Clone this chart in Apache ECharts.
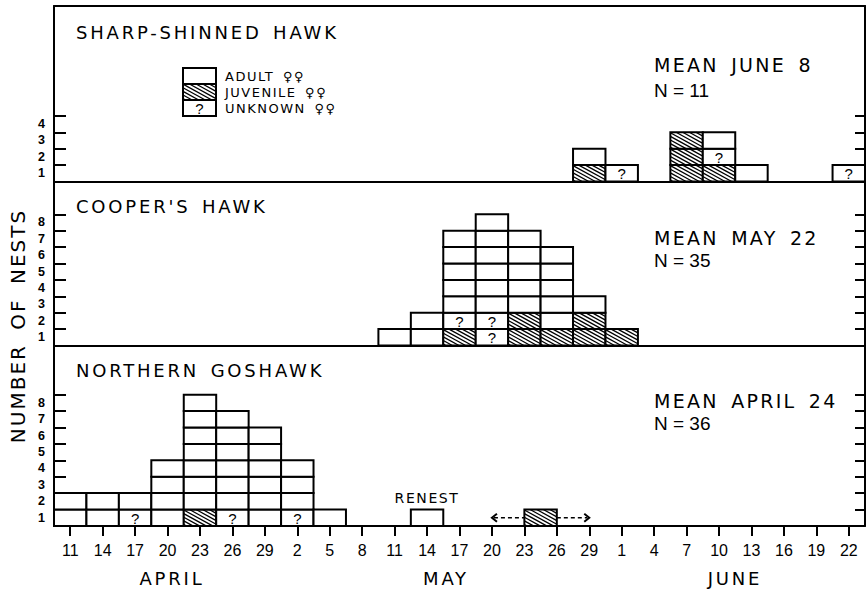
<!DOCTYPE html>
<html>
<head>
<meta charset="utf-8">
<script src="https://cdn.jsdelivr.net/npm/echarts@6/dist/echarts.min.js"></script>
<style>
  html, body { margin: 0; padding: 0; background: #fff; }
  #chart { width: 866px; height: 590px; }
  /* widely spaced hand-lettered look for the captions */
  #chart text[style*="DejaVu"][style*="18px"] { letter-spacing: 2.8px; word-spacing: 3px; }
  #chart text[style*="DejaVu"][style*="19px"] { letter-spacing: 2.3px; word-spacing: 4px; }
  #chart text[style*="DejaVu"][style*="20px"] { letter-spacing: 2px; word-spacing: 6px; }
  #chart text[style*="DejaVu"][style*="13px"] { letter-spacing: 1.5px; word-spacing: 3px; }
  #chart text[style*="DejaVu"][style*="14px"] { letter-spacing: 1.6px; }
</style>
</head>
<body>
<div id="chart"></div>
<script>
// 3-day periods of clutch initiation
const categories = ['Apr 11', 'Apr 14', 'Apr 17', 'Apr 20', 'Apr 23', 'Apr 26', 'Apr 29',
  'May 2', 'May 5', 'May 8', 'May 11', 'May 14', 'May 17', 'May 20', 'May 23', 'May 26', 'May 29',
  'Jun 1', 'Jun 4', 'Jun 7', 'Jun 10', 'Jun 13', 'Jun 16', 'Jun 19', 'Jun 22'];
const dayLabels = ['11', '14', '17', '20', '23', '26', '29', '2', '5', '8', '11', '14', '17',
  '20', '23', '26', '29', '1', '4', '7', '10', '13', '16', '19', '22'];
const monthLabels = ['APRIL', 'MAY', 'JUNE'];

// number of nests per period, by age class of the female
const sharpJuvenile = [0,0,0,0,0,0,0,0,0,0,0,0,0,0,0,0,1,0,0,3,1,0,0,0,0];
const sharpUnknown  = [0,0,0,0,0,0,0,0,0,0,0,0,0,0,0,0,0,1,0,0,1,0,0,0,1];
const sharpAdult    = [0,0,0,0,0,0,0,0,0,0,0,0,0,0,0,0,1,0,0,0,1,1,0,0,0];

const cooperJuvenile = [0,0,0,0,0,0,0,0,0,0,0,0,1,0,2,1,2,1,0,0,0,0,0,0,0];
const cooperUnknown  = [0,0,0,0,0,0,0,0,0,0,0,0,1,2,0,0,0,0,0,0,0,0,0,0,0];
const cooperAdult    = [0,0,0,0,0,0,0,0,0,0,1,2,5,6,5,5,1,0,0,0,0,0,0,0,0];

const goshawkJuvenile = [0,0,0,0,1,0,0,0,0,0,0,0,0,0,0,0,0,0,0,0,0,0,0,0,0];
const goshawkUnknown  = [0,0,1,0,0,1,0,1,0,0,0,0,0,0,0,0,0,0,0,0,0,0,0,0,0];
const goshawkAdult    = [2,2,1,4,7,6,6,3,1,0,0,1,0,0,0,0,0,0,0,0,0,0,0,0,0];
const goshawkNotes = { 'May 14': 'RENEST' };
// one juvenile goshawk nest dated only to a range
const goshawkShiftedNest = ['May 23', 'May 26'];
const goshawkShiftedRange = ['May 20', 'May 29'];

const yTicksSharp = ['1', '2', '3', '4'];
const yTicksCooper = ['1', '2', '3', '4', '5', '6', '7', '8'];
const yTicksGoshawk = ['1', '2', '3', '4', '5', '6', '7', '8'];

const panelTitles = ['SHARP-SHINNED HAWK', "COOPER'S HAWK", 'NORTHERN GOSHAWK'];
const panelMeans = ['MEAN JUNE 8', 'MEAN MAY 22', 'MEAN APRIL 24'];
const panelCounts = ['N = 11', 'N = 35', 'N = 36'];
const legendKinds = ['adult', 'juvenile', 'unknown'];
const legendLabels = ['ADULT \u2640\u2640', 'JUVENILE \u2640\u2640', 'UNKNOWN \u2640\u2640'];

// ---- layout ----
const UNIT = 16.4;            // pixels per nest
const LEFT = 54, RIGHT = 1, TOP = 6;
const yMax = [10.7, 10, 11];  // panel heights in nest units
const grids = [];
let gTop = TOP;
yMax.forEach(m => { grids.push({ left: LEFT, right: RIGHT, top: gTop, height: m * UNIT }); gTop += m * UNIT; });

const INK = '#000';

function hatchLines(x0, y0, w, h) {
  const s = 0.55, d = 6.6, out = [];
  for (let t = -h / s + 2.5; t < w; t += d) {
    const ya = Math.max(0, -s * t), yb = Math.min(h, s * (w - t));
    if (yb - ya > 0.6) {
      out.push({ type: 'line', shape: { x1: x0 + t + ya / s, y1: y0 + ya, x2: x0 + t + yb / s, y2: y0 + yb },
        style: { stroke: INK, lineWidth: 1.3, fill: 'none' } });
    }
  }
  return out;
}

function box(x0, y0, w, h, kind) {
  const parts = [{ type: 'rect', shape: { x: x0, y: y0, width: w, height: h },
    style: { fill: '#fff', stroke: INK, lineWidth: 2 } }];
  if (kind === 'juvenile') parts.push(...hatchLines(x0, y0, w, h));
  if (kind === 'unknown') {
    parts.push({ type: 'text', style: { x: x0 + w / 2, y: y0 + h / 2 + 0.5, text: '?', align: 'center', verticalAlign: 'middle',
      textAlign: 'center', textVerticalAlign: 'middle', fontSize: 15, fontFamily: 'Liberation Sans', fill: INK } });
  }
  return parts;
}

function stackRows(juv, unk, adu) {
  return categories.map((c, i) => [i, juv[i], unk[i], adu[i]]).filter(r => r[1] + r[2] + r[3] > 0);
}

// stacking order from the baseline up
const KINDS = ['juvenile', 'unknown', 'adult'];
function stackRenderer(notes) {
  return function (params, api) {
    const i = api.value(0);
    const counts = [api.value(1), api.value(2), api.value(3)];
    const w = api.size([1, 1])[0];
    const cx = api.coord([i, 0])[0];
    const children = [];
    let level = 0;
    KINDS.forEach((k, j) => {
      for (let n = 0; n < counts[j]; n++) {
        const top = api.coord([i, level + 1])[1];
        const bot = api.coord([i, level])[1];
        children.push(...box(cx - w / 2, top, w, bot - top, k));
        level++;
      }
    });
    const note = notes[categories[i]];
    if (note) {
      children.push({ type: 'text', style: { x: cx, y: api.coord([i, level])[1] - 11, text: note, align: 'center',
        verticalAlign: 'middle', textAlign: 'center', textVerticalAlign: 'middle', fontSize: 14, fontFamily: 'DejaVu Sans', fill: INK } });
    }
    return { type: 'group', children };
  };
}

function renderShifted(params, api) {
  const xa = api.coord([api.value(0), 0])[0], xb = api.coord([api.value(1), 0])[0];
  const base = api.coord([api.value(0), 0])[1], top = api.coord([api.value(0), 1])[1];
  const ym = api.coord([api.value(0), 0.5])[1];
  const la = api.coord([api.value(2), 0])[0], ra = api.coord([api.value(3), 0])[0];
  const dash = { stroke: INK, lineWidth: 1.6, lineDash: [4, 3], fill: 'none' };
  const head = { stroke: INK, lineWidth: 2, fill: 'none' };
  return { type: 'group', children: [
    { type: 'line', shape: { x1: la + 2, y1: ym, x2: xa, y2: ym }, style: dash },
    { type: 'line', shape: { x1: xb, y1: ym, x2: ra - 2, y2: ym }, style: dash },
    { type: 'polyline', shape: { points: [[la + 5, ym - 4], [la, ym], [la + 5, ym + 4]] }, style: head },
    { type: 'polyline', shape: { points: [[ra - 5, ym - 4], [ra, ym], [ra - 5, ym + 4]] }, style: head },
    ...box(xa, top, xb - xa, base - top, 'juvenile')
  ] };
}

const frame = { show: true, onZero: false, lineStyle: { color: INK, width: 2 } };

const xAxes = [0, 1, 2].map(g => ({
  type: 'category', gridIndex: g, data: categories, boundaryGap: true,
  axisLine: frame,
  axisTick: { show: g === 2, alignWithLabel: true, interval: 0, length: 10, lineStyle: { color: INK, width: 2 } },
  axisLabel: { show: g === 2, interval: 0, formatter: (v, idx) => dayLabels[idx], fontSize: 16,
    fontFamily: 'Liberation Sans', color: INK, margin: 17 },
  splitLine: { show: false }
}));
xAxes.push({ type: 'category', gridIndex: 0, position: 'top', data: categories, axisLine: frame,
  axisTick: { show: false }, axisLabel: { show: false }, splitLine: { show: false } });

const tickSets = [yTicksSharp, yTicksCooper, yTicksGoshawk];
const yAxes = [];
tickSets.forEach((ticks, g) => {
  yAxes.push({
    type: 'value', gridIndex: g, min: 0, max: yMax[g], position: 'left',
    axisLine: frame,
    axisTick: { show: true, inside: true, length: 12, lineStyle: { color: INK, width: 2 }, customValues: ticks.map(Number) },
    axisLabel: { show: true, customValues: ticks.map(t => Number(t) - 0.5),
      formatter: v => ticks[Math.floor(v)], fontSize: 12.5, fontWeight: 'bold', fontFamily: 'Liberation Sans', color: INK, margin: 9 },
    splitLine: { show: false }
  });
});
tickSets.forEach((ticks, g) => {
  yAxes.push({
    type: 'value', gridIndex: g, min: 0, max: yMax[g], position: 'right',
    axisLine: frame,
    axisTick: { show: true, inside: true, length: 10, lineStyle: { color: INK, width: 2 }, customValues: ticks.map(Number) },
    axisLabel: { show: false }, splitLine: { show: false }
  });
});

function label(text, x, y, size, family, align, extra) {
  return Object.assign({ type: 'text', x: x, y: y, silent: true,
    style: { text, fontSize: size, fontFamily: family, fill: INK, align: align, verticalAlign: 'middle',
      textAlign: align, textVerticalAlign: 'middle' } }, extra || {});
}

// legend swatches, stacked as in the bars' key
const LG = { x: 183, y: 68, w: 33, h: 16 };
const legendParts = [];
legendKinds.forEach((k, j) => legendParts.push(...box(LG.x, LG.y + j * LG.h, LG.w, LG.h, k)));

const titleY = [32, 206.7, 370];
const meanY = [64.5, 238.3, 401];
const countY = [90, 260.7, 423.7];
const monthX = [172, 446, 735];

const graphic = [
  { type: 'group', silent: true, children: legendParts },
  ...legendLabels.map((t, j) => label(t, 225, LG.y + LG.h * (j + 0.5), 13, 'DejaVu Sans', 'left')),
  ...panelTitles.map((t, g) => label(t, 76, titleY[g], 18, 'DejaVu Sans', 'left')),
  ...panelMeans.map((t, g) => label(t, 654, meanY[g], 19, 'DejaVu Sans', 'left')),
  ...panelCounts.map((t, g) => label(t, 654, countY[g], 19, 'Liberation Sans', 'left')),
  ...monthLabels.map((t, m) => label(t, monthX[m], 578, 18, 'DejaVu Sans', 'center')),
  label('NUMBER OF NESTS', 17.5, 326, 20, 'DejaVu Sans', 'center', { rotation: Math.PI / 2 })
];

const chart = echarts.init(document.getElementById('chart'), null, { renderer: 'svg' });
chart.setOption({
  backgroundColor: '#fff',
  animation: false,
  grid: grids,
  xAxis: xAxes,
  yAxis: yAxes,
  graphic: graphic,
  series: [
    { type: 'custom', name: 'Sharp-shinned Hawk', xAxisIndex: 0, yAxisIndex: 0, renderItem: stackRenderer({}),
      encode: { x: 0, y: 1 }, data: stackRows(sharpJuvenile, sharpUnknown, sharpAdult) },
    { type: 'custom', name: "Cooper's Hawk", xAxisIndex: 1, yAxisIndex: 1, renderItem: stackRenderer({}),
      encode: { x: 0, y: 1 }, data: stackRows(cooperJuvenile, cooperUnknown, cooperAdult) },
    { type: 'custom', name: 'Northern Goshawk', xAxisIndex: 2, yAxisIndex: 2, renderItem: stackRenderer(goshawkNotes),
      encode: { x: 0, y: 1 }, data: stackRows(goshawkJuvenile, goshawkUnknown, goshawkAdult) },
    { type: 'custom', name: 'Northern Goshawk (date range)', xAxisIndex: 2, yAxisIndex: 2, renderItem: renderShifted,
      encode: { x: 0, y: 1 },
      data: [[categories.indexOf(goshawkShiftedNest[0]), categories.indexOf(goshawkShiftedNest[1]),
              categories.indexOf(goshawkShiftedRange[0]), categories.indexOf(goshawkShiftedRange[1])]] }
  ]
});
</script>
</body>
</html>
